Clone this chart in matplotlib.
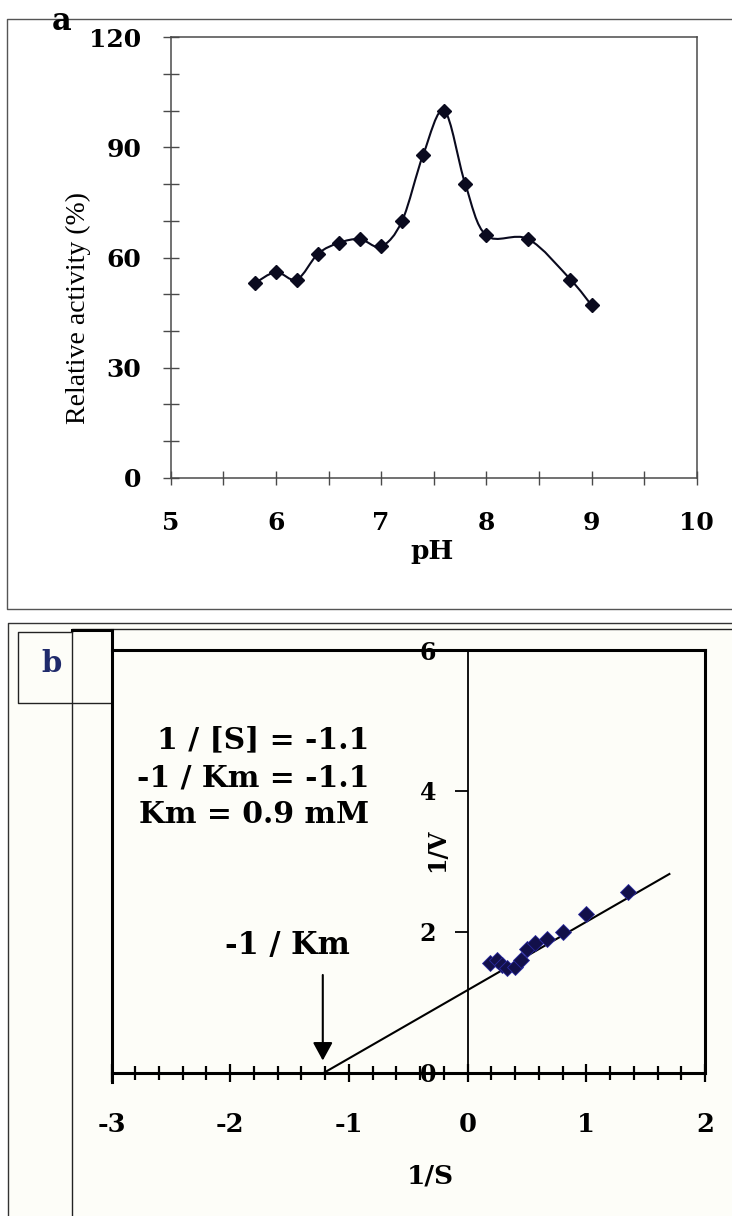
import matplotlib
matplotlib.use('Agg')
import matplotlib.pyplot as plt
import numpy as np
from matplotlib.path import Path
from matplotlib.patches import PathPatch, Rectangle
from matplotlib.lines import Line2D
from matplotlib.ticker import MultipleLocator

plt.rcParams['font.family'] = ['Liberation Serif', 'DejaVu Serif']
plt.rcParams['axes.unicode_minus'] = False
BOLD = 'DejaVu Serif'   # wide heavy serif, closer to the stretched original

# panel a: pH profile
PH = [5.8, 6.0, 6.2, 6.4, 6.6, 6.8, 7.0, 7.2, 7.4, 7.6, 7.8, 8.0, 8.4, 8.8, 9.0]
ACTIVITY = [53, 56, 54, 61, 64, 65, 63, 70, 88, 100, 80, 66, 65, 54, 47]
XTICKS_A = [5, 6, 7, 8, 9, 10]
YTICKS_A = [0, 30, 60, 90, 120]

# panel b: Lineweaver-Burk plot
INV_S = [0.19, 0.25, 0.29, 0.33, 0.40, 0.45, 0.50, 0.57, 0.67, 0.80, 1.00, 1.35]
INV_V = [1.55, 1.60, 1.52, 1.48, 1.50, 1.60, 1.76, 1.84, 1.90, 2.00, 2.25, 2.56]
LB_SLOPE = 0.97
LB_INTERCEPT = 1.17
LB_X = [-1.21, 1.70]
XTICKS_B = [-3, -2, -1, 0, 1, 2]
YTICKS_B = [0, 2, 4, 6]
NOTE_LINES = ['1 / [S] = -1.1', '-1 / Km = -1.1', 'Km = 0.9 mM']

W, H = 732, 1216


def fx(x):
    return x / W


def fy(y):
    return 1 - y / H


def fig_line(fig, xs, ys, **kw):
    fig.add_artist(Line2D([fx(v) for v in xs], [fy(v) for v in ys],
                          transform=fig.transFigure, **kw))


def smooth_path(xs, ys):
    # bezier smoothing like a spreadsheet "smoothed line"
    pts = np.column_stack([xs, ys]).astype(float)
    ext = np.vstack([pts[0], pts, pts[-1]])
    verts = [pts[0]]
    codes = [Path.MOVETO]
    for i in range(len(pts) - 1):
        p0, p1, p2, p3 = ext[i], ext[i + 1], ext[i + 2], ext[i + 3]
        verts += [p1 + (p2 - p0) / 6, p2 - (p3 - p1) / 6, p2]
        codes += [Path.CURVE4] * 3
    return Path(verts, codes)


fig = plt.figure(figsize=(7.32, 12.16), dpi=100)

# background of panel b
fig.add_artist(Rectangle((fx(8), 0), 1, fy(622.7), transform=fig.transFigure,
                         facecolor='#fdfdf8', edgecolor='none', zorder=0))

# frames
fig_line(fig, [740, 7.5, 7.5, 740], [19, 19, 609, 609], color='#555555', lw=1.0)
fig_line(fig, [740, 8.3, 8.3], [622.7, 622.7, 1220], color='#333333', lw=1.0)
fig_line(fig, [740, 72, 72], [629, 629, 1220], color='#222222', lw=1.0)
fig_line(fig, [72, 18, 18, 111.5], [631.7, 631.7, 703, 703], color='#222222', lw=1.0)
fig_line(fig, [72, 111.5], [630, 630], color='black', lw=2.2)
fig_line(fig, [111.5, 111.5], [630, 1082], color='black', lw=2.2)

# ---- panel a ----
axA = fig.add_axes([fx(170.7), fy(477.7), (696.7 - 170.7) / W, (477.7 - 37.3) / H])
axA.set_xlim(5, 10)
axA.set_ylim(0, 120)
axA.add_patch(PathPatch(smooth_path(PH, ACTIVITY), fill=False, lw=1.5,
                        edgecolor='#0a0a1e', zorder=2))
axA.plot(PH, ACTIVITY, 'D', color='#0a0a1e', ms=7.5, zorder=3)
axA.set_xticks(XTICKS_A, [str(t) for t in XTICKS_A], fontweight='bold',
               fontsize=18, fontfamily=BOLD)
axA.set_yticks(YTICKS_A, [str(t) for t in YTICKS_A], fontweight='bold',
               fontsize=18, fontfamily=BOLD)
axA.xaxis.set_minor_locator(MultipleLocator(0.5))
axA.yaxis.set_minor_locator(MultipleLocator(10))
axA.tick_params(which='both', direction='inout', color='#4a4a4a', width=1.0)
axA.tick_params(axis='y', which='both', length=12, pad=15)
axA.tick_params(axis='x', which='both', length=10, pad=19)
for s in axA.spines.values():
    s.set_color('#4a4a4a')
    s.set_linewidth(1.1)

fig.text(fx(78), fy(308), 'Relative activity (%)', rotation=90,
         ha='center', va='center', fontsize=20)
fig.text(fx(432), fy(552), 'pH', fontsize=19, weight='bold', family=BOLD,
         ha='center', va='center')
fig.text(fx(62), fy(22), 'a', fontsize=22, weight='bold', family=BOLD,
         ha='center', va='center')

# ---- panel b ----
axB = fig.add_axes([fx(111.5), fy(1072.5), (705 - 111.5) / W, (1072.5 - 650) / H])
axB.set_facecolor('none')
axB.set_xlim(-3, 2)
axB.set_ylim(0, 6)

lx = np.array(LB_X)
axB.plot(lx, LB_INTERCEPT + LB_SLOPE * lx, color='black', lw=1.5, zorder=2)
axB.plot(INV_S, INV_V, 'D', color='#12104a', mec='#2a2aa0', mew=0.6, ms=8.5, zorder=3)

for side in ['top', 'right', 'bottom']:
    axB.spines[side].set_linewidth(2.2)
    axB.spines[side].set_color('black')
axB.spines['left'].set_position(('data', 0))
axB.spines['left'].set_linewidth(1.3)

axB.set_xticks(XTICKS_B, [str(t) for t in XTICKS_B], fontweight='bold',
               fontsize=18.5, fontfamily=BOLD)
axB.xaxis.set_minor_locator(MultipleLocator(0.2))
axB.tick_params(axis='x', which='major', direction='inout', length=13, width=1.6, pad=22)
axB.tick_params(axis='x', which='minor', direction='inout', length=9.5, width=1.6)
axB.set_yticks(YTICKS_B, [str(t) for t in YTICKS_B], fontweight='bold',
               fontsize=17, fontfamily=BOLD)
axB.tick_params(axis='y', direction='out', length=9.5, width=1.3, pad=13)

for i, line in enumerate(NOTE_LINES):
    axB.text(-0.83, [4.73, 4.18, 3.66][i], line, ha='right', va='center',
             fontsize=21.5, fontweight='bold', family=BOLD)

axB.text(-1.52, 1.80, '-1 / Km', ha='center', va='center', fontsize=22,
         fontweight='bold', family=BOLD)
axB.annotate('', xy=(-1.22, 0.17), xytext=(-1.22, 1.385),
             arrowprops=dict(arrowstyle='-|>,head_length=0.55,head_width=0.3',
                             mutation_scale=20, color='black', lw=1.5,
                             shrinkA=0, shrinkB=0))

fig.text(fx(437), fy(850), '1/V', rotation=90, ha='center', va='center',
         fontsize=17, fontweight='bold', family=BOLD)
fig.text(fx(430), fy(1176), '1/S', ha='center', va='center', fontsize=19,
         fontweight='bold', family=BOLD)
fig.text(fx(52), fy(664), 'b', ha='center', va='center', fontsize=21,
         fontweight='bold', family=BOLD, color='#1f2a6b')

fig.savefig('out.png', dpi=100)
